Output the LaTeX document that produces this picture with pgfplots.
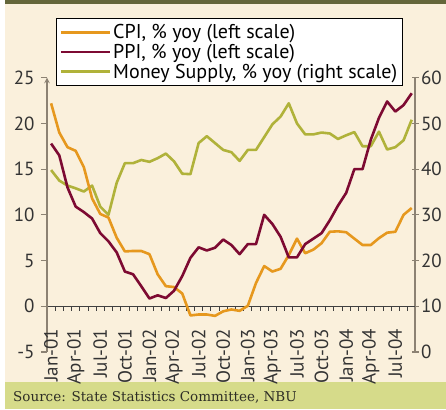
\documentclass[border=0pt]{standalone}
\usepackage{fontspec}
\setmainfont{PT Sans}
\newfontfamily\srcfont{DejaVu Serif}
\usepackage{pgfplots}
\pgfplotsset{compat=1.18}
\definecolor{cream}{HTML}{FAF0DC}
\definecolor{topband}{HTML}{64663A}
\definecolor{srcband}{HTML}{D6DB8A}
\definecolor{srctext}{HTML}{2E2E26}
\definecolor{cpi}{HTML}{E6981E}
\definecolor{ppi}{HTML}{7D0A32}
\definecolor{money}{HTML}{B0B23A}
\definecolor{axisgray}{HTML}{8C8273}
\definecolor{ticktext}{HTML}{333333}

% month index 0 = Jan-01 ... 44 = Sep-04
\pgfplotstableread{
m v
0 22.2
1 19.0
2 17.4
3 17.0
4 15.2
5 11.8
6 10.1
7 9.7
8 7.5
9 6.0
10 6.05
11 6.05
12 5.7
13 3.5
14 2.2
15 2.1
16 1.4
17 -1.0
18 -0.9
19 -0.9
20 -1.05
21 -0.55
22 -0.35
23 -0.5
24 0.05
25 2.55
26 4.4
27 3.8
28 4.1
29 5.6
30 7.4
31 5.8
32 6.2
33 6.9
34 8.15
35 8.2
36 8.1
37 7.4
38 6.7
39 6.7
40 7.45
41 8.05
42 8.15
43 10.0
44 10.75
}\cpidata
\pgfplotstableread{
m v
0 17.8
1 16.5
2 13.0
3 10.9
4 10.3
5 9.6
6 8.0
7 7.1
8 5.9
9 3.8
10 3.5
11 2.2
12 0.85
13 1.2
14 0.9
15 1.7
16 3.3
17 5.3
18 6.45
19 6.1
20 6.4
21 7.3
22 6.7
23 5.7
24 6.8
25 6.8
26 10.0
27 9.0
28 7.6
29 5.35
30 5.35
31 6.8
32 7.4
33 8.0
34 9.4
35 11.0
36 12.4
37 15.0
38 15.0
39 18.2
40 20.6
41 22.4
42 21.3
43 22.0
44 23.3
}\ppidata
\pgfplotstableread{
m v
0 39.8
1 37.5
2 36.4
3 35.8
4 35.1
5 36.4
6 31.8
7 30.0
8 37.0
9 41.3
10 41.3
11 42.0
12 41.6
13 42.4
14 43.4
15 41.7
16 39.0
17 38.9
18 45.7
19 47.2
20 45.7
21 44.2
22 43.7
23 41.8
24 44.2
25 44.2
26 47.0
27 49.8
28 51.5
29 54.4
30 50.0
31 47.6
32 47.6
33 48.0
34 47.8
35 46.6
36 47.4
37 48.1
38 45.0
39 45.0
40 48.2
41 44.3
42 44.8
43 46.3
44 50.8
}\moneydata

\pgfplotsset{
  panel/.style={
    at={(47pt,57pt)}, anchor=south west, scale only axis,
    width=368pt, height=274.3pt,
    xmin=-0.5, xmax=44.4,
    /pgf/number format/assume math mode=true,
    tick label style={font=\fontsize{19}{19}\selectfont, text=ticktext},
    y axis line style={-, axisgray, line width=1.4pt},
    ytick style={axisgray, line width=1.2pt},
  },
  series/.style={line width=2.6pt, line join=round, mark=none},
}

\begin{document}
\begin{tikzpicture}[x=1pt,y=1pt]
\fill[white] (0,0) rectangle (446,409);
\fill[cream] (5,27) rectangle (446,405);
\fill[topband] (5,405) rectangle (446,409);
\fill[srcband] (5,0) rectangle (446,27);
\node[anchor=west, inner sep=0pt, text=srctext, font=\srcfont\fontsize{13.5}{15}\selectfont] at (13,12) {Source: State Statistics Committee, NBU};

% right scale: money supply
\begin{axis}[
  panel,
  ymin=0, ymax=60,
  axis x line=none, axis y line*=right,
  ytick={0,10,...,60},
  tick align=center, major tick length=7pt,
  yticklabel style={xshift=-1pt},
]
\addplot[series, money] table[x=m, y=v] {\moneydata};
\end{axis}

% left scale: CPI and PPI
\begin{axis}[
  panel,
  ymin=-5, ymax=25,
  axis x line=middle, axis y line=left,
  x axis line style={-, black!75, line width=1.2pt},
  ytick={-5,0,...,25},
  tick align=outside, major tick length=6pt,
  yticklabel style={xshift=-3pt},
  xtick={0,3,...,42},
  xticklabels={Jan-01,Apr-01,Jul-01,Oct-01,Jan-02,Apr-02,Jul-02,Oct-02,Jan-03,Apr-03,Jul-03,Oct-03,Jan-04,Apr-04,Jul-04},
  major x tick style={draw=none},
  minor xtick={0.5,1.5,...,43.5},
  minor x tick style={black!75, line width=0.9pt},
  minor tick length=4.5pt,
  xticklabel style={yshift=-13pt, rotate=90, anchor=east},
  legend style={at={(0.0245,1.218)}, anchor=north west, draw=black, line width=0.8pt,
    fill=white, font=\fontsize{20}{23}\selectfont, inner xsep=3pt, inner ysep=4pt,
    row sep=0pt, cells={anchor=west}},
  legend image code/.code={\draw[#1, line width=2.8pt] (0pt,0pt) -- (49pt,0pt);},
]
\addplot[series, cpi] table[x=m, y=v] {\cpidata};
\addplot[series, ppi] table[x=m, y=v] {\ppidata};
\addlegendimage{series, money}
\legend{{CPI, \% yoy (left scale)},{PPI, \% yoy (left scale)},{Money Supply, \% yoy (right scale)}}
\end{axis}
\end{tikzpicture}
\end{document}
